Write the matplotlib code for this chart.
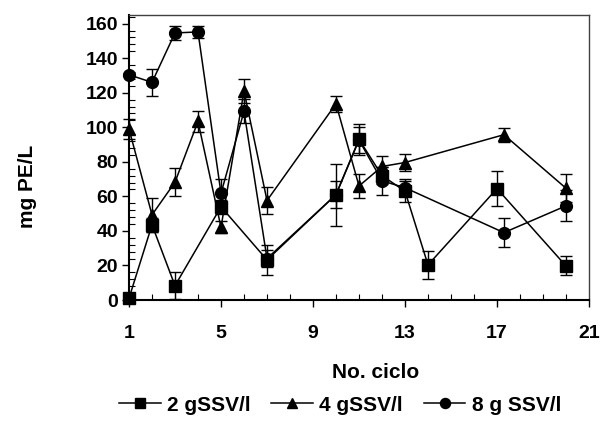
import matplotlib
matplotlib.use("Agg")
import matplotlib.pyplot as plt
from matplotlib.ticker import MultipleLocator, FixedLocator

plt.rcParams['font.family'] = ['Liberation Sans', 'DejaVu Sans']
plt.rcParams['font.weight'] = 'bold'

# 2 gSSV/l (squares)
x2 = [1, 2, 3, 5, 7, 10, 11, 12, 13, 14, 17, 20]
y2 = [1, 43.5, 8.3, 54, 23.2, 61, 93, 72, 63, 20.3, 64.5, 19.7]
e2 = [1.5, 4, 8, 4, 8.7, 18, 9, 5, 6, 8, 10, 5.5]

# 4 gSSV/l (triangles)
x4 = [1, 2, 3, 4, 5, 6, 7, 10, 11, 12, 13, 17.3, 20]
y4 = [99, 49.3, 68.2, 103.4, 42.1, 121, 57.6, 113.6, 66, 77.3, 79.6, 95.7, 64.7]
e4 = [6, 10, 8, 6, 3.5, 7, 8, 4.5, 7, 6, 5, 4, 8]

# 8 g SSV/l (circles)
x8 = [1, 2, 3, 4, 5, 6, 7, 10, 11, 12, 13, 17.3, 20]
y8 = [130.4, 126, 154.6, 155.2, 61.8, 109.2, 24, 61, 92.6, 69, 65, 39, 54.5]
e8 = [1, 8, 4, 3.5, 8, 7, 5, 8, 7.5, 8, 5, 8.5, 9]

labels = ['2 gSSV/l', '4 gSSV/l', '8 g SSV/l']
xticks = [1, 5, 9, 13, 17, 21]
yticks = [0, 20, 40, 60, 80, 100, 120, 140, 160]

fig = plt.figure(figsize=(6.02, 4.23), dpi=100)
ax = fig.add_axes([129/602, 1-300/423, (589-129)/602, (300-15)/423])

series = [(x2, y2, e2, 's', 8), (x4, y4, e4, '^', 9), (x8, y8, e8, 'o', 8.5)]
handles = []
for (xs, ys, es, m, ms), lab in zip(series, labels):
    eb = ax.errorbar(xs, ys, yerr=es, fmt='-', marker=m, color='black',
                     markersize=ms, linewidth=1.1, elinewidth=1.0, capsize=4,
                     capthick=1.0, label=lab, zorder=3)
    eb[0].set_clip_on(False)
    for c in eb[1]:
        c.set_clip_on(False)
    for c in eb[2]:
        c.set_clip_on(False)
    handles.append(eb[0])

ax.set_xlim(1, 21)
ax.set_ylim(0, 165)
ax.xaxis.set_major_locator(FixedLocator(xticks))
ax.xaxis.set_minor_locator(MultipleLocator(1))
ax.yaxis.set_major_locator(FixedLocator(yticks))
ax.yaxis.set_minor_locator(MultipleLocator(4))
ax.set_xticklabels([str(t) for t in xticks])
ax.set_yticklabels([str(t) for t in yticks])

ax.tick_params(which='major', direction='out', length=5, width=1, labelsize=14, color='black')
ax.tick_params(axis='x', which='major', pad=13)
ax.tick_params(axis='y', which='major', pad=3)
ax.tick_params(which='minor', direction='in', length=4, width=0.8, color='black')

for s in ['left', 'bottom']:
    ax.spines[s].set_linewidth(1.5)
    ax.spines[s].set_color('black')
for s in ['top', 'right']:
    ax.spines[s].set_linewidth(1.0)
    ax.spines[s].set_color('#404040')

ax.set_xlabel('No. ciclo', fontsize=15, fontweight='bold')
ax.xaxis.set_label_coords(0.537, -0.222)
ax.set_ylabel('mg PE/L', fontsize=15, fontweight='bold')
ax.yaxis.set_label_coords(-0.20, 0.40)

leg = fig.legend(handles=handles, labels=labels, loc='center',
                 ncol=3, frameon=False, fontsize=15, handlelength=2.0, handletextpad=0.3,
                 columnspacing=1.0, markerscale=0.85)
leg.set_bbox_to_anchor((340/602, 1-405/423), transform=fig.transFigure)

fig.savefig('out.png', dpi=100)
